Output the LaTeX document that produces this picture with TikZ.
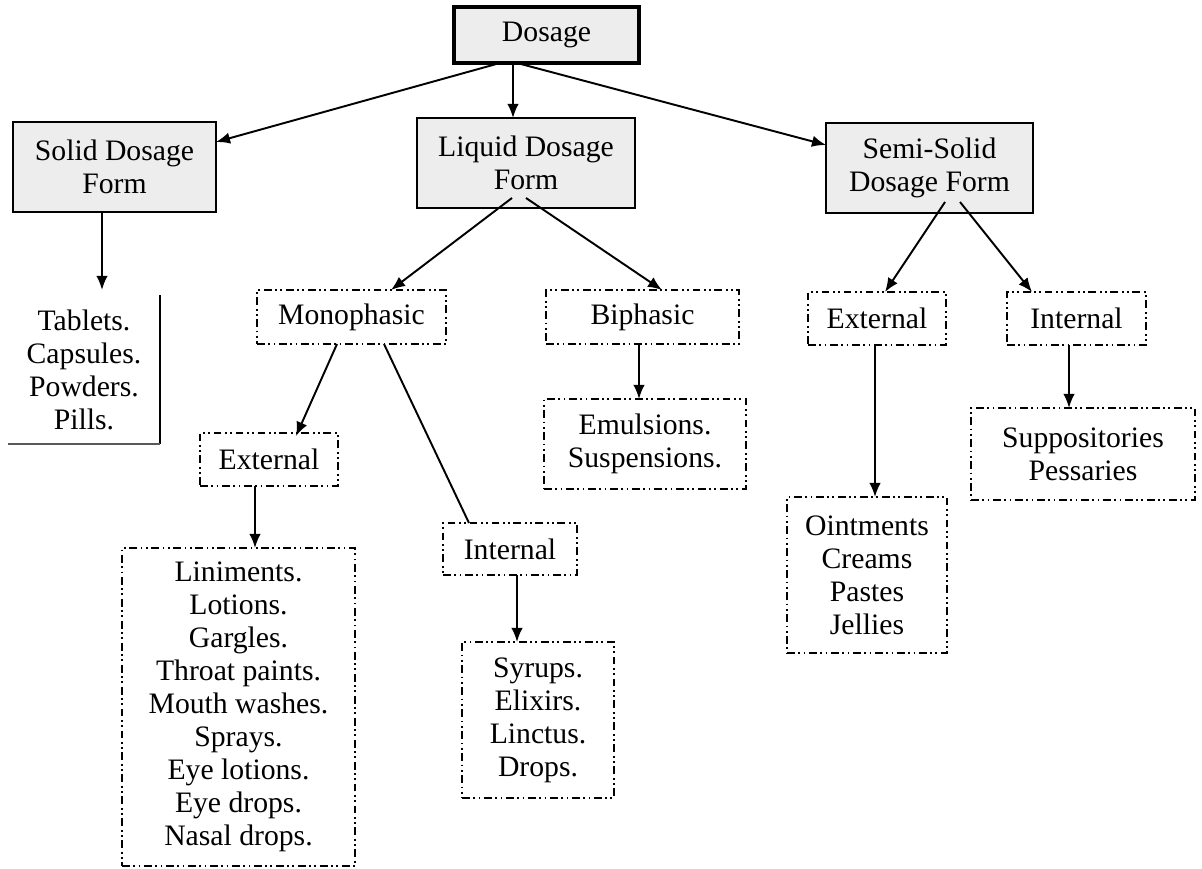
\documentclass[tikz,border=0pt]{standalone}
\usepackage{fontspec}
\setmainfont{Liberation Serif}
\usetikzlibrary{arrows.meta,calc}
\begin{document}
\begin{tikzpicture}[x=0.02cm,y=-0.02cm,
  every node/.style={font=\fontsize{16.9pt}{18.8pt}\selectfont, align=center, inner sep=0pt, outer sep=0pt},
  mainbox/.style={draw, line width=1.4pt, fill=black!7},
  subbox/.style={draw, line width=1.1pt, dash pattern=on 4.5pt off 2pt on 1pt off 2pt on 1pt off 2pt},
  conn/.style={line width=1.1pt, -{Latex[length=8pt,width=6.5pt]}},
  plainline/.style={line width=1.1pt}]
\useasboundingbox (0,0) rectangle (1202,868);
\fill[white] (0,0) rectangle (1202,868);

% top level
\node[mainbox, line width=2.2pt, minimum width=3.70cm, minimum height=1.12cm] (dos) at (546.5,35) {Dosage};
\node[mainbox, minimum width=4.06cm, minimum height=1.80cm] (sol) at (114.5,167) {Solid Dosage\\Form};
\node[mainbox, minimum width=4.36cm, minimum height=1.80cm] (liq) at (526,163) {Liquid Dosage\\Form};
\node[mainbox, minimum width=4.14cm, minimum height=1.80cm] (semi) at (929.5,168) {Semi-Solid\\Dosage Form};

% second level
\node[minimum width=3.04cm, minimum height=2.98cm] (tab) at (84,369.5) {Tablets.\\Capsules.\\Powders.\\Pills.};
\node[subbox, minimum width=3.78cm, minimum height=1.08cm] (mono) at (351.5,317) {Monophasic};
\node[subbox, minimum width=3.86cm, minimum height=1.08cm] (bi) at (642.5,317) {Biphasic};
\node[subbox, minimum width=2.76cm, minimum height=1.06cm] (ext2) at (877,318.5) {External};
\node[subbox, minimum width=2.78cm, minimum height=1.06cm] (int2) at (1076.5,318.5) {Internal};

% third level
\node[subbox, minimum width=2.76cm, minimum height=1.06cm] (ext1) at (269,459.5) {External};
\node[subbox, minimum width=2.68cm, minimum height=1.04cm] (int1) at (510,549) {Internal};
\node[subbox, minimum width=4.04cm, minimum height=1.80cm] (emu) at (645,444) {Emulsions.\\Suspensions.};
\node[subbox, minimum width=3.20cm, minimum height=3.12cm] (oint) at (867,575) {Ointments\\Creams\\Pastes\\Jellies};
\node[subbox, minimum width=4.48cm, minimum height=1.84cm] (sup) at (1083,454) {Suppositories\\Pessaries};

% fourth level
\node[subbox, minimum width=4.66cm, minimum height=6.36cm] (lin) at (238.5,707) {Liniments.\\Lotions.\\Gargles.\\Throat paints.\\Mouth washes.\\Sprays.\\Eye lotions.\\Eye drops.\\Nasal drops.};
\node[subbox, minimum width=3.04cm, minimum height=3.12cm] (syr) at (538,720) {Syrups.\\Elixirs.\\Linctus.\\Drops.};

% partial frame of the solid list
\draw[line width=0.8pt] (tab.north east) -- (tab.south east);
\draw[line width=1.4pt, black!65] (tab.south east) -- (tab.south west);

% connectors
\draw[conn] ($(dos.south)+(-46.5,0)$) -- ($(sol.east)+(0,-25)$);
\draw[conn] ($(dos.south)+(-33.5,0)$) -- ($(liq.north)+(-13,0)$);
\draw[conn] ($(dos.south)+(-29.5,0)$) -- ($(semi.west)+(0,-23)$);
\draw[conn] ($(sol.south)+(-12.5,0)$) -- ($(tab.north)+(18,-5)$);
\draw[conn] ($(liq.south)+(-14,-10)$) -- ($(mono.north)+(39.5,0)$);
\draw[conn] ($(liq.south)+(0,-10)$) -- ($(bi.north)+(19.5,0)$);
\draw[conn] ($(semi.south)+(15.5,-11)$) -- ($(ext2.north)+(8,0)$);
\draw[conn] ($(semi.south)+(30.5,-11)$) -- ($(int2.north)+(-44.5,0)$);
\draw[conn] ($(mono.south)+(-14.5,0)$) -- ($(ext1.north)+(27,3)$);
\draw[plainline] ($(mono.south)+(32.5,0)$) -- ($(int1.north)+(-41,0)$);
\draw[conn] ($(ext1.south)+(-14,0)$) -- ($(lin.north)+(16.5,0)$);
\draw[conn] ($(int1.south)+(7,0)$) -- ($(syr.north)+(-21,0)$);
\draw[conn] ($(bi.south)+(-3.5,0)$) -- ($(emu.north)+(-6,0)$);
\draw[conn] ($(ext2.south)+(-2,0)$) -- ($(oint.north)+(8,0)$);
\draw[conn] ($(int2.south)+(-7.5,0)$) -- ($(sup.north)+(-14,0)$);
\end{tikzpicture}
\end{document}
